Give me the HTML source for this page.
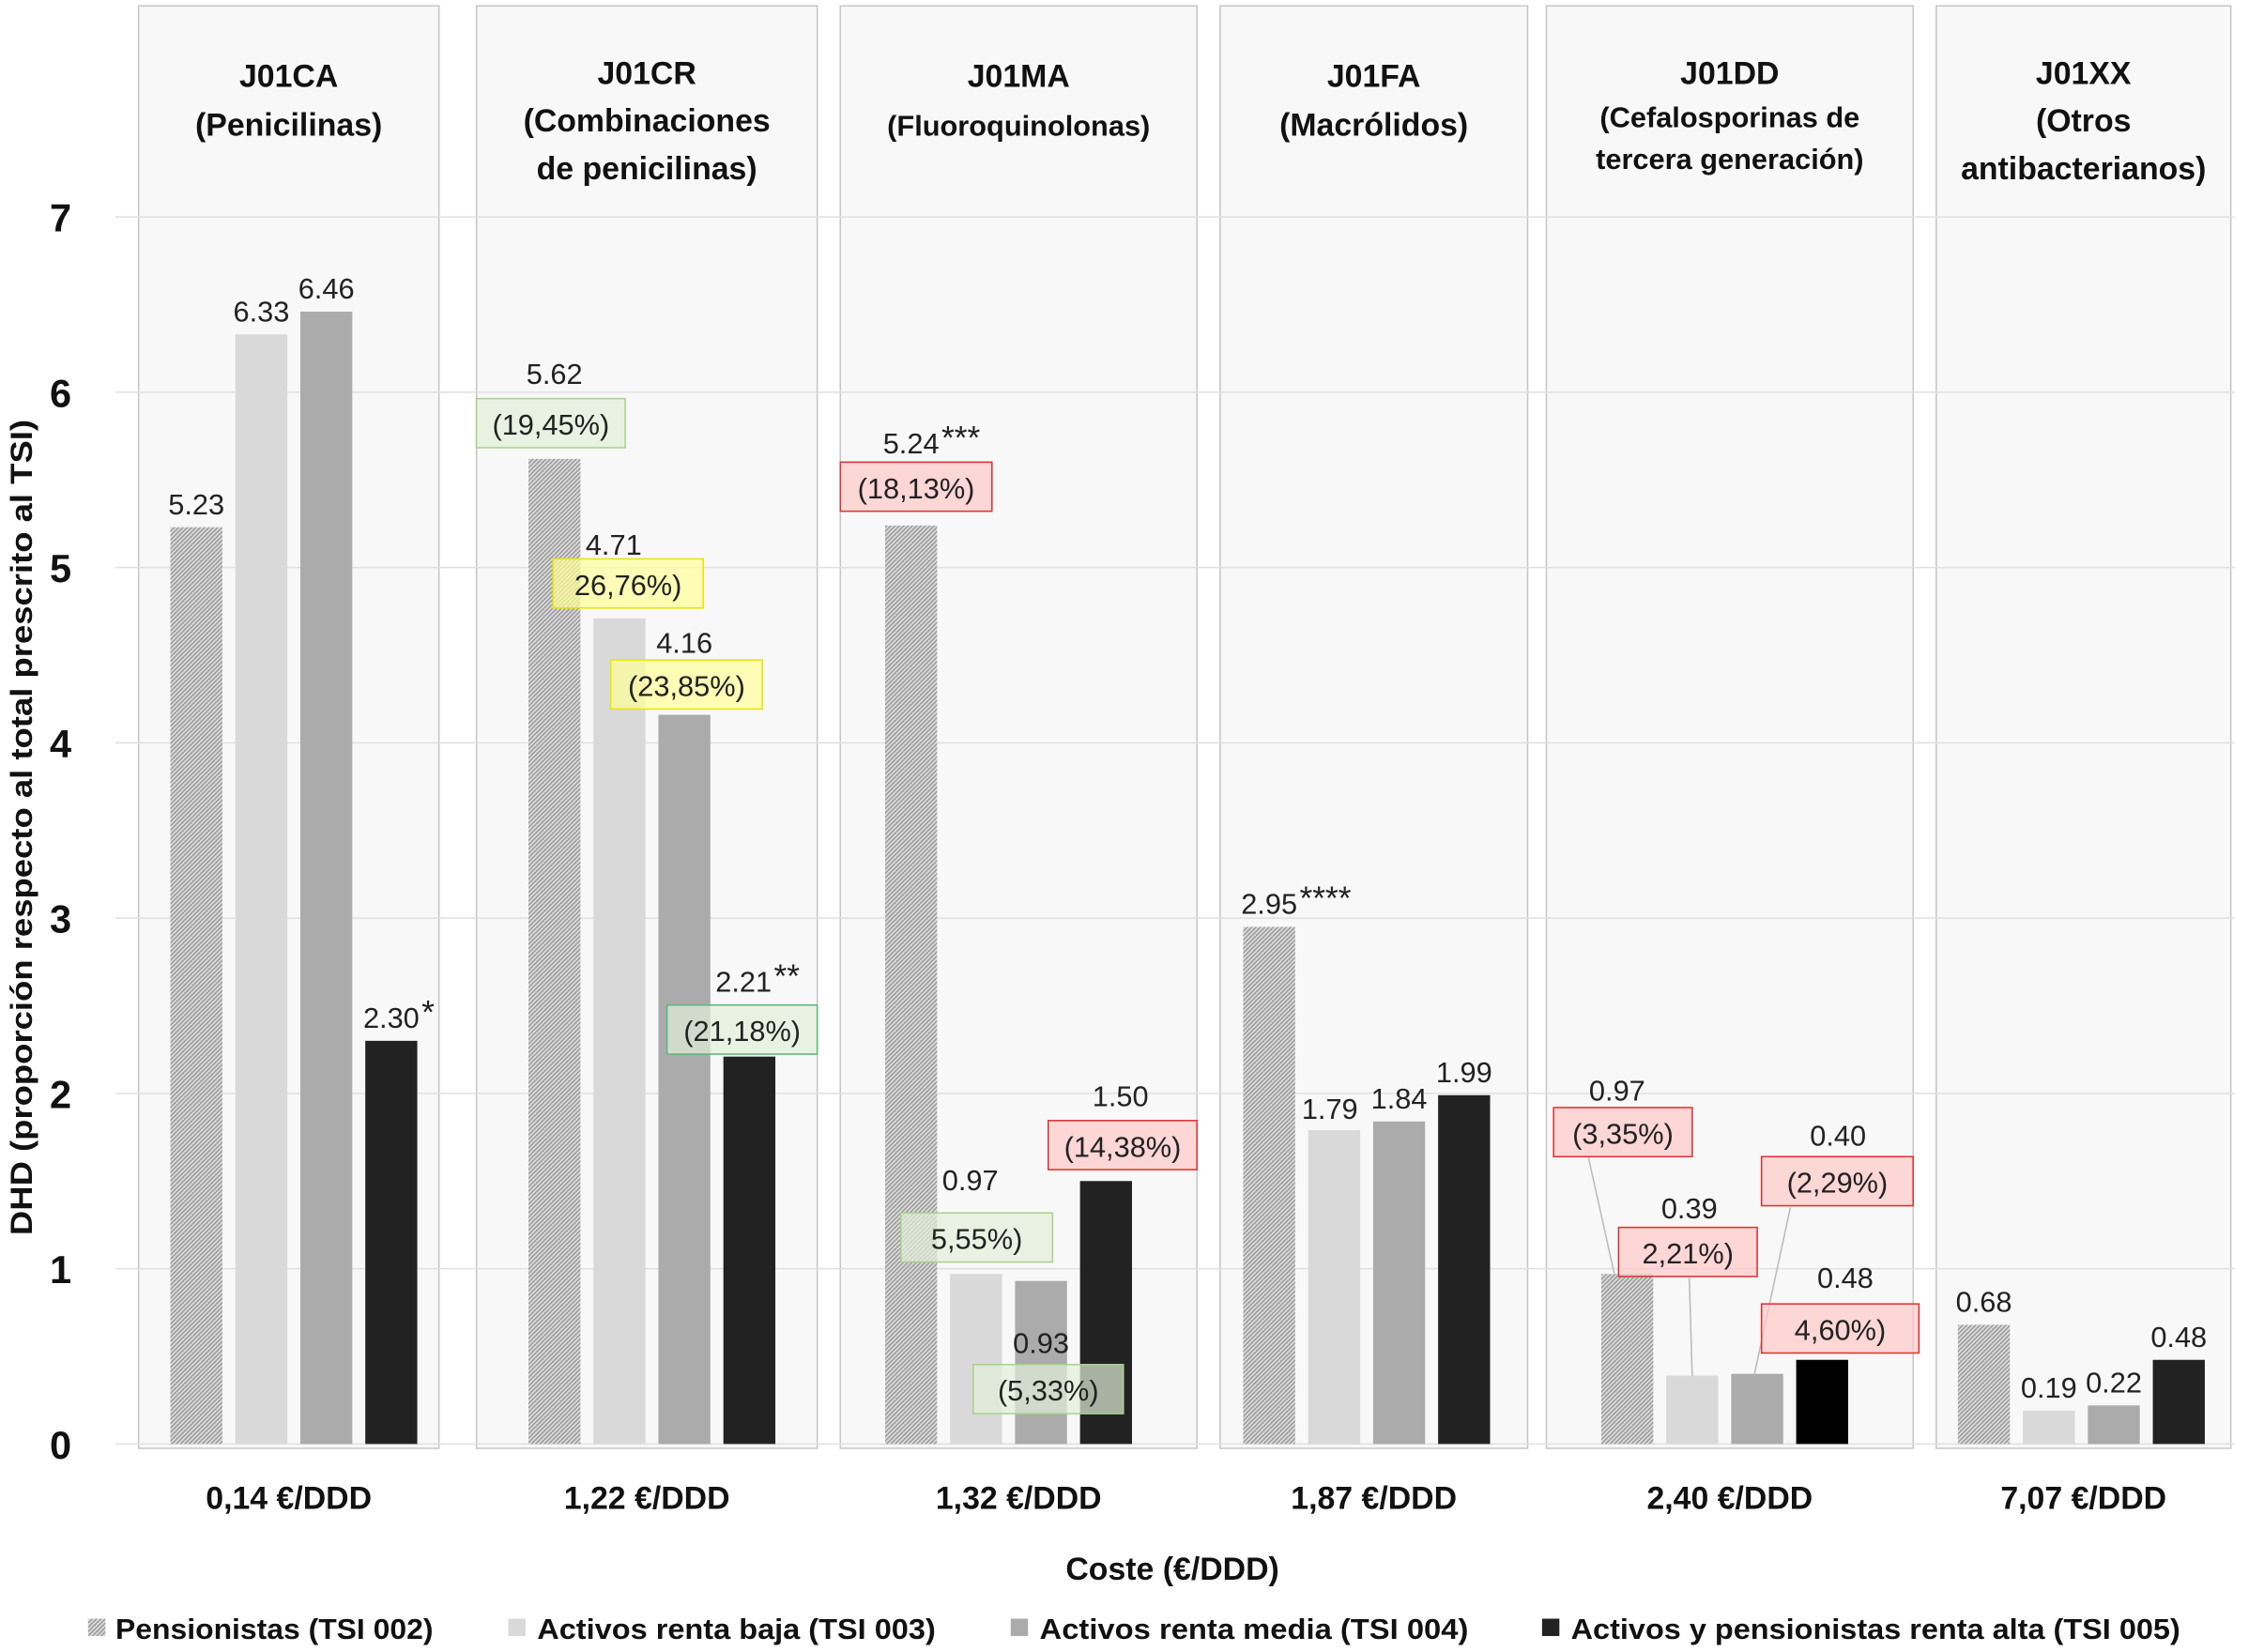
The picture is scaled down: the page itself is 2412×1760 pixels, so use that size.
<!DOCTYPE html>
<html><head><meta charset="utf-8"><style>
html,body{margin:0;padding:0;background:#fff}
svg{display:block}
text{font-family:"Liberation Sans",sans-serif}
</style></head><body>
<svg id="chart" width="2412" height="1760" viewBox="0 0 1568 1144" xmlns="http://www.w3.org/2000/svg">
<defs>
<pattern id="hatch" width="3" height="3" patternUnits="userSpaceOnUse">
<rect width="3" height="3" fill="#d6d6d6"/>
<path d="M0,3 L3,0 M-1,1 L1,-1 M2,4 L4,2" stroke="#8c8c8c" stroke-width="0.7"/>
</pattern>
</defs>
<g id="panels"></g>
<g id="grid"></g>
<g id="bars"></g>
<g id="notes"></g>
<g id="texts"></g>
</svg>
<script>
const categories = ["J01CA","J01CR","J01MA","J01FA","J01DD","J01XX"];
const titleLines = [["J01CA","(Penicilinas)"],["J01CR","(Combinaciones","de penicilinas)"],["J01MA","(Fluoroquinolonas)"],["J01FA","(Macrólidos)"],["J01DD","(Cefalosporinas de","tercera generación)"],["J01XX","(Otros","antibacterianos)"]];
const costLabels = ["0,14 €/DDD","1,22 €/DDD","1,32 €/DDD","1,87 €/DDD","2,40 €/DDD","7,07 €/DDD"];
const seriesNames = ["Pensionistas (TSI 002)","Activos renta baja (TSI 003)","Activos renta media (TSI 004)","Activos y pensionistas renta alta (TSI 005)"];
const tsi002 = [5.23,5.62,5.24,2.95,0.97,0.68];
const tsi003 = [6.33,4.71,0.97,1.79,0.39,0.19];
const tsi004 = [6.46,4.16,0.93,1.84,0.40,0.22];
const tsi005 = [2.30,2.21,1.50,1.99,0.48,0.48];
const yTicks = [0,1,2,3,4,5,6,7];
const stars = [["","","","*"],["","","","**"],["***","","",""],["****","","",""],["","","",""],["","","",""]];

const NS="http://www.w3.org/2000/svg";
function el(tag,attrs,parent,txt){const e=document.createElementNS(NS,tag);for(const k in attrs)e.setAttribute(k,attrs[k]);if(txt!==undefined)e.textContent=txt;parent.appendChild(e);return e;}
const Y0=1000, UNIT=121.4;
function yScale(v){return Y0-v*UNIT;}
const panelX=[96,330,582,845,1071,1341], panelW=[208,236,247,213,254,204];
const firstBar=[118,366,613,861,1109,1356], STEP=45, BW=36;
function xScale(ci,si){return firstBar[ci]+si*STEP;}
const series=[tsi002,tsi003,tsi004,tsi005];
const fills=["url(#hatch)","#d9d9d9","#ababab","#222222"];
const gP=document.getElementById('panels'),gG=document.getElementById('grid'),gB=document.getElementById('bars'),gN=document.getElementById('notes'),gT=document.getElementById('texts');

categories.forEach((c,i)=>{
  const r=el('rect',{x:panelX[i],y:4,width:panelW[i],height:999,fill:"#f8f8f8",stroke:"#c6c6c6","stroke-width":1},gP);
  
  
  const cx=panelX[i]+panelW[i]/2;
  const lines=titleLines[i];
  lines.forEach((t,k)=>{
    let y, fs=22;
    if(lines.length===2){y=[60,94][k]; if(i===2&&k===1)fs=20;}
    else {y=[58,91,124][k]; if(i===4&&k>0){fs=20;y=[58,88,117][k];}}
    const tt=el('text',{x:cx,y:y,"text-anchor":"middle","font-size":fs,"font-weight":"bold",fill:"#111"},gT,t);
    
    
  });
  const cl=el('text',{x:cx,y:1045,"text-anchor":"middle","font-size":22,"font-weight":"bold",fill:"#111"},gT,costLabels[i]);
  
  
});

yTicks.forEach(v=>{
  const l=el('line',{x1:80,x2:1548,y1:yScale(v),y2:yScale(v),stroke:"#e0e0e0","stroke-width":1},gG);
  
  
  const t=el('text',{x:42,y:yScale(v)+10,"text-anchor":"middle","font-size":27,"font-weight":"bold",fill:"#111"},gT,String(v));
  
  
});

const labelOff={"1,0":[0,-52],"1,1":[-4,-44],"1,2":[0,-43],"1,3":[-4,-45],
"2,0":[0,-50],"2,1":[-4,-58],"2,2":[0,50],"2,3":[10,-52],
"3,1":[-3,-8],"4,0":[-7,-120],"4,1":[-2,-109],"4,2":[56,-158],"4,3":[16,-50]};
series.forEach((s,si)=>{
  s.forEach((v,ci)=>{
    const x=xScale(ci,si), y=yScale(v);
    const b=el('rect',{x:x,y:y,width:BW,height:Y0-y,fill:(ci===4&&si===3)?"#000":fills[si]},gB);
    
    
    const off=labelOff[ci+","+si]||[0,-9];
    const lx=x+BW/2+off[0], ly=y+off[1];
    const t=el('text',{x:lx,y:ly,"text-anchor":"middle","font-size":20,fill:"#222"},gT,v.toFixed(2));
    
    
    const st=stars[ci][si];
    if(st){
      const s2=el('text',{x:lx+21,y:ly-3,"text-anchor":"start","font-size":23,fill:"#222"},gT,st);
      
      
    }
  });
});

const noteText=["(19,45%)","26,76%)","(23,85%)","(21,18%)","(18,13%)","(14,38%)","5,55%)","(5,33%)","(3,35%)","2,21%)","(2,29%)","4,60%)"];
const noteColor=["g","y","y","g2","r","r","g","g","r","r","r","r"];
const noteBox=[[330,276,103],[383,387,104],[423,457,105],[462,696,104],[582,320,105],[726,776,103],[624,840,105],[674,945,104],[1076,767,96],[1121,850,96],[1220,801,105],[1220,903,109]];
const pal={g:["#e2efd9","#a9d18e"],g2:["#e2efd9","#5cb87a"],y:["#ffff99","#e6e600"],r:["#ffc7c7","#e03030"]};
[[1100,801,1118,882],[1170,885,1172,953],[1240,836,1215,952]].forEach(p=>{
  const l=el('line',{x1:p[0],y1:p[1],x2:p[2],y2:p[3],stroke:"#bbb","stroke-width":1},gN);
  
  
});
noteText.forEach((t,i)=>{
  const [x,y,w]=noteBox[i], c=pal[noteColor[i]];
  const r=el('rect',{x:x,y:y,width:w,height:34,fill:c[0],"fill-opacity":0.7,stroke:c[1],"stroke-width":1},gN);
  
  
  const tt=el('text',{x:x+w/2,y:y+25,"text-anchor":"middle","font-size":20,fill:"#222"},gN,t);
  
  
});

const yt=el('text',{x:0,y:0,transform:"translate(22,573) rotate(-90)","text-anchor":"middle","font-size":21,"font-weight":"bold",fill:"#111",textLength:565,lengthAdjust:"spacingAndGlyphs"},gT,"DHD (proporción respecto al total prescrito al TSI)");


const xt=el('text',{x:812,y:1094,"text-anchor":"middle","font-size":22,"font-weight":"bold",fill:"#111"},gT,"Coste (€/DDD)");



const legSq=[61,352,700,1068], legTx=[80,372,720,1088], legW=[220,276,297,422];
seriesNames.forEach((n,i)=>{
  const r=el('rect',{x:legSq[i],y:1121,width:12,height:12,fill:fills[i]},gT);
  
  
  const t=el('text',{x:legTx[i],y:1135,"font-size":20,"font-weight":"bold",fill:"#111",textLength:legW[i],lengthAdjust:"spacingAndGlyphs"},gT,n);
  
  
});
</script>
</body></html>
